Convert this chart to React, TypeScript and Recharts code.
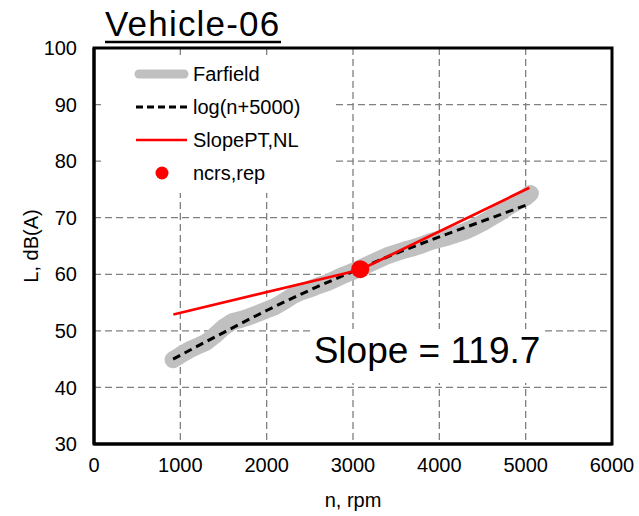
import { ComposedChart, Line, Scatter, XAxis, YAxis, CartesianGrid, ReferenceArea } from "recharts";

// engine speed (rpm) / level dB(A)
const farfieldRpm = [
  916, 1000, 1100, 1200, 1300, 1400, 1500, 1600, 1700, 1800, 1900, 2000, 2100, 2200,
  2300, 2400, 2500, 2600, 2700, 2800, 2900, 3000, 3100, 3200, 3300, 3400, 3500, 3600,
  3700, 3800, 3900, 4000, 4100, 4200, 4300, 4400, 4500, 4600, 4700, 4800, 4900, 5000, 5055,
];
const farfieldLevel = [
  44.9, 45.7, 46.6, 47.3, 48.0, 49.2, 50.6, 51.6, 52.0, 52.5, 53.1, 53.7, 54.3, 55.2,
  56.2, 56.9, 57.4, 58.0, 58.5, 59.2, 59.9, 60.5, 61.2, 61.9, 62.6, 63.3, 63.8, 64.3,
  64.7, 65.2, 65.8, 66.2, 66.6, 67.1, 67.6, 68.3, 69.1, 70.0, 70.9, 71.9, 72.8, 73.6, 74.3,
];

const fitRpm = [916, 1500, 2000, 2500, 3000, 3500, 4000, 4500, 5000];
const fitLevel = [45.0, 49.7, 53.6, 57.2, 60.5, 63.7, 66.6, 69.4, 72.2];

const slopeRpm = [919, 3084, 5043];
const slopeLevel = [52.9, 60.8, 75.3];

const repRpm = [3084];
const repLevel = [60.9];

const xTicks = [0, 1000, 2000, 3000, 4000, 5000, 6000];
const yTicks = [30, 40, 50, 60, 70, 80, 90, 100];

const slopeValue = 119.7;

const toPoints = (xs: number[], ys: number[]) => xs.map((n, i) => ({ n, L: ys[i] }));

const farfield = toPoints(farfieldRpm, farfieldLevel);
const fit = toPoints(fitRpm, fitLevel);
const slopeLine = toPoints(slopeRpm, slopeLevel);
const rep = toPoints(repRpm, repLevel);

const FONT = '"Liberation Sans", Arial, sans-serif';
const tickStyle = { fill: "#000", fontSize: 20, fontFamily: FONT };

const RepDot = (props: any) => <circle cx={props.cx} cy={props.cy} r={9} fill="#ff0000" />;

export default function App() {
  return (
    <div style={{ position: "absolute", left: 0, top: 0, width: 639, height: 516, background: "#fff", fontFamily: FONT }}>
      <ComposedChart width={639} height={516} margin={{ top: 48, right: 27, left: 0, bottom: 0 }}>
        <CartesianGrid stroke="#808080" strokeWidth={1.3} strokeDasharray="7 4" />
        <XAxis
          type="number"
          dataKey="n"
          domain={[0, 6000]}
          ticks={xTicks}
          height={72}
          tickLine={false}
          tickSize={6}
          tickMargin={8}
          axisLine={{ stroke: "#000", strokeWidth: 3 }}
          tick={tickStyle}
          label={{ value: "n, rpm", position: "insideBottom", offset: 9, style: { fill: "#000", fontSize: 20, fontFamily: FONT } }}
        />
        <YAxis
          type="number"
          dataKey="L"
          domain={[30, 100]}
          ticks={yTicks}
          width={94}
          tickLine={false}
          tickSize={6}
          tickMargin={11}
          axisLine={{ stroke: "#000", strokeWidth: 3 }}
          tick={tickStyle}
          label={{ value: "L, dB(A)", angle: -90, position: "insideLeft", offset: 31, style: { fill: "#000", fontSize: 20, fontFamily: FONT, textAnchor: "middle" } }}
        />
        <Line data={farfield} dataKey="L" type="linear" stroke="#c0c0c0" strokeWidth={17} strokeLinecap="round" strokeLinejoin="round" dot={false} activeDot={false} isAnimationActive={false} />
        <Line data={fit} dataKey="L" type="monotone" stroke="#000" strokeWidth={3} strokeDasharray="8 5" dot={false} activeDot={false} isAnimationActive={false} />
        <Line data={slopeLine} dataKey="L" type="linear" stroke="#ff0000" strokeWidth={2.7} dot={false} activeDot={false} isAnimationActive={false} />
        <Scatter data={rep} dataKey="L" shape={RepDot} isAnimationActive={false} />
        <ReferenceArea x1={0} x2={6000} y1={30} y2={100} fill="none" stroke="#000" strokeWidth={3} ifOverflow="visible" />
      </ComposedChart>

      <svg width={639} height={516} style={{ position: "absolute", left: 0, top: 0, pointerEvents: "none" }}>
        {/* title */}
        <text x={105} y={36} fontSize={35} letterSpacing={1.2} fill="#000" fontFamily={FONT}>Vehicle-06</text>
        <line x1={105} x2={281} y1={42} y2={42} stroke="#000" strokeWidth={2.7} />

        {/* legend */}
        <rect x={104} y={55} width={232} height={138} fill="#fff" />
        <line x1={139} x2={184} y1={74} y2={74} stroke="#c0c0c0" strokeWidth={9} strokeLinecap="round" />
        <line x1={136} x2={187} y1={107} y2={107} stroke="#000" strokeWidth={3} strokeDasharray="7 4" />
        <line x1={136} x2={187} y1={140} y2={140} stroke="#ff0000" strokeWidth={2.5} />
        <circle cx={162} cy={173} r={6.5} fill="#ff0000" />
        <g fontSize={20} fill="#000" fontFamily={FONT}>
          <text x={193} y={81}>Farfield</text>
          <text x={193} y={114}>log(n+5000)</text>
          <text x={193} y={147}>SlopePT,NL</text>
          <text x={193} y={180}>ncrs,rep</text>
        </g>

        {/* slope annotation */}
        <rect x={310} y={329} width={233} height={54} fill="#fff" />
        <text x={427} y={363} fontSize={37} textAnchor="middle" fill="#000" fontFamily={FONT}>
          {`Slope = ${slopeValue}`}
        </text>
      </svg>
    </div>
  );
}
